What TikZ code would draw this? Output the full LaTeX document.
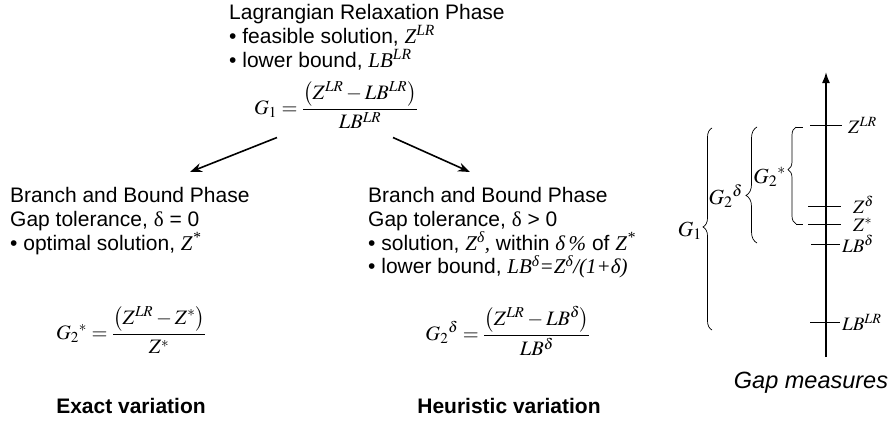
\documentclass[tikz,border=0pt]{standalone}
\usepackage{amsmath}
\usepackage{mathptmx}
\usepackage[no-math]{fontspec}
\setmainfont{Liberation Sans}
\newfontfamily\tms{Liberation Serif}
\usetikzlibrary{arrows.meta,decorations.pathreplacing}
\newcommand{\ti}[1]{{\tms\itshape #1}}
\tikzset{
  every node/.style={inner sep=0pt,font=\fontsize{21}{23.8}\selectfont},
  txt/.style={align=left,anchor=north west},
  frm/.style={font=\fontsize{20.5}{24}\selectfont},
  caption/.style={anchor=base,font=\fontsize{21}{24}\selectfont\bfseries},
  arr/.style={-{Stealth[length=12pt,width=9pt]},line width=1.6pt},
  tickln/.style={line width=0.8pt},
  ticklab/.style={anchor=west,font=\fontsize{19}{22}\selectfont},
  bracelab/.style={anchor=east,font=\fontsize{21.5}{24}\selectfont},
  br/.style={decorate,decoration={brace,amplitude=#1},line width=0.7pt},
}
\begin{document}
\begin{tikzpicture}[x=1pt,y=-1pt]
\useasboundingbox (0,0) rectangle (891,423);
% Lagrangian phase
\node[txt] (lagr) at (229,4) {Lagrangian Relaxation Phase\\
  • feasible solution, \ti{Z\textsuperscript{LR}}\\
  • lower bound, \ti{LB\textsuperscript{LR}}};
\node[frm] (gone) at (336,105) {$G_1=\dfrac{\left(Z^{LR}-LB^{LR}\right)}{LB^{LR}}$};
% branch and bound, exact
\node[txt] (bbexact) at (10,187) {Branch and Bound Phase\\
  Gap tolerance, {\tms δ} = 0\\
  • optimal solution, \ti{Z\textsuperscript{*}}};
\node[frm] (gstar) at (131,330) {${G_2}^{*}=\dfrac{\left(Z^{LR}-Z^{*}\right)}{Z^{*}}$};
% branch and bound, heuristic
\node[txt] (bbheur) at (368,187) {Branch and Bound Phase\\
  Gap tolerance, {\tms δ} > 0\\
  • solution, \ti{Z\textsuperscript{δ},} within \ti{δ\,\%} of \ti{Z\textsuperscript{*}}\\
  • lower bound, \ti{LB\textsuperscript{δ}=Z\textsuperscript{δ}/(1+δ)}};
\node[frm] (gdelta) at (508,331) {${G_2}^{\delta}=\dfrac{\left(Z^{LR}-LB^{\delta}\right)}{LB^{\delta}}$};
\draw[arr] ([xshift=-59pt,yshift=-9pt]gone.south) -- ([xshift=180pt,yshift=15pt]bbexact.north west);
\draw[arr] ([xshift=57pt,yshift=-9pt]gone.south) -- ([xshift=102pt,yshift=15pt]bbheur.north west);
% captions
\node[caption] (exvar) at (131,413) {Exact variation};
\node[caption] (heurvar) at (509,413) {Heuristic variation};
\node[anchor=base,font=\fontsize{23.5}{26}\selectfont\itshape] (gapm) at (811,388) {Gap measures};
% gap axis
\draw[-{Latex[length=11pt,width=8pt]},line width=1.6pt] (826,357) -- (826,72);
\draw[tickln] (810,125) -- (842,125);
\draw[tickln] (808,206) -- (841,206);
\draw[tickln] (808,224) -- (841,224);
\draw[tickln] (811,244) -- (840,244);
\draw[tickln] (810,322) -- (840,322);
\node[ticklab] (zlr) at (848,125) {$Z^{LR}$};
\node[ticklab] (zdel) at (853,205) {$Z^{\delta}$};
\node[ticklab] (zst) at (853,225) {$Z^{*}$};
\node[ticklab] (lbdel) at (842,244) {$LB^{\delta}$};
\node[ticklab] (lblr) at (842,322) {$LB^{LR}$};
% braces
\draw[br=9pt,decoration={aspect=0.51}] (712,330) -- (712,128);
\draw[br=11pt,decoration={aspect=0.41}] (757,243) -- (757,127);
\draw[br=8pt,decoration={aspect=0.56}] (796,224) -- (796,127);
\draw[line width=0.7pt] (796,127) -- (803,127) (796,224) -- (803,224);
\node[bracelab] (gonel) at (702,231) {$G_1$};
\node[bracelab] (gdell) at (743,196) {${G_2}^{\delta}$};
\node[bracelab] (gstl) at (786,177) {${G_2}^{*}$};
\end{tikzpicture}
\end{document}
